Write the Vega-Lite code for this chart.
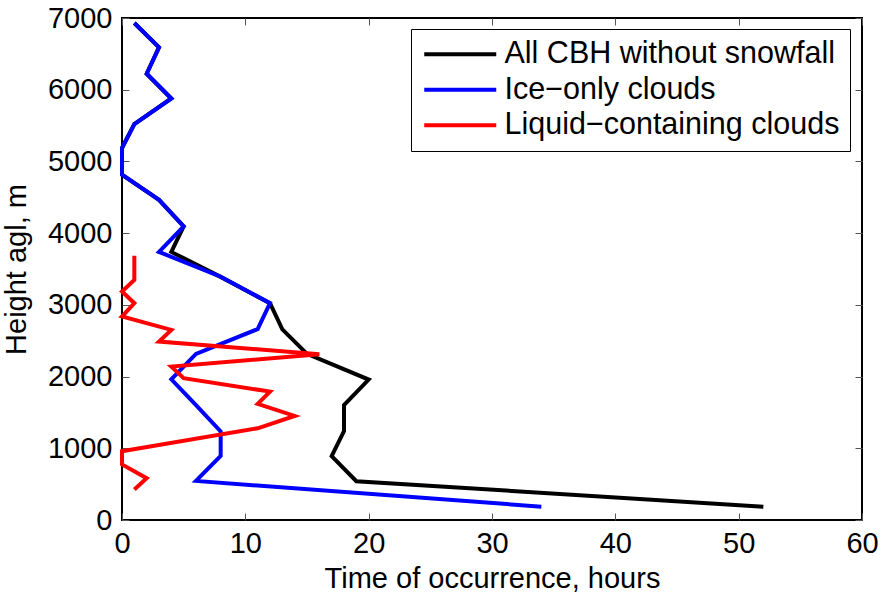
{
  "$schema": "https://vega.github.io/schema/vega-lite/v6.json",
  "width": 740,
  "height": 502,
  "autosize": "none",
  "padding": {"left": 122, "top": 18, "right": 22, "bottom": 78},
  "background": "white",
  "config": {
    "font": "Liberation Sans",
    "view": {"stroke": "black", "strokeWidth": 2},
    "axis": {
      "grid": false,
      "domain": false,
      "ticks": true,
      "tickSize": -7,
      "tickColor": "#555555",
      "tickWidth": 1,
      "labelFlush": false,
      "labelFont": "Liberation Sans",
      "labelFontSize": 29,
      "labelColor": "black",
      "titleFont": "Liberation Sans",
      "titleFontSize": 29,
      "titleFontWeight": "normal",
      "titleColor": "black"
    }
  },
  "data": {
    "values": [
      {"series": "All CBH without snowfall", "h": 186, "t": 52},
      {"series": "All CBH without snowfall", "h": 540, "t": 19},
      {"series": "All CBH without snowfall", "h": 890, "t": 17},
      {"series": "All CBH without snowfall", "h": 1240, "t": 18},
      {"series": "All CBH without snowfall", "h": 1602, "t": 18},
      {"series": "All CBH without snowfall", "h": 1958, "t": 20},
      {"series": "All CBH without snowfall", "h": 2316, "t": 15},
      {"series": "All CBH without snowfall", "h": 2658, "t": 13},
      {"series": "All CBH without snowfall", "h": 3023, "t": 12},
      {"series": "All CBH without snowfall", "h": 3390, "t": 8},
      {"series": "All CBH without snowfall", "h": 3738, "t": 4},
      {"series": "All CBH without snowfall", "h": 4093, "t": 5},
      {"series": "All CBH without snowfall", "h": 4465, "t": 3},
      {"series": "All CBH without snowfall", "h": 4814, "t": 0},
      {"series": "All CBH without snowfall", "h": 5186, "t": 0},
      {"series": "All CBH without snowfall", "h": 5521, "t": 1},
      {"series": "All CBH without snowfall", "h": 5878, "t": 4},
      {"series": "All CBH without snowfall", "h": 6223, "t": 2},
      {"series": "All CBH without snowfall", "h": 6590, "t": 3},
      {"series": "All CBH without snowfall", "h": 6930, "t": 1},

      {"series": "Ice−only clouds", "h": 186, "t": 34},
      {"series": "Ice−only clouds", "h": 545, "t": 6},
      {"series": "Ice−only clouds", "h": 895, "t": 8},
      {"series": "Ice−only clouds", "h": 1235, "t": 8},
      {"series": "Ice−only clouds", "h": 1602, "t": 6},
      {"series": "Ice−only clouds", "h": 1962, "t": 4},
      {"series": "Ice−only clouds", "h": 2316, "t": 6},
      {"series": "Ice−only clouds", "h": 2662, "t": 11},
      {"series": "Ice−only clouds", "h": 3023, "t": 12},
      {"series": "Ice−only clouds", "h": 3392, "t": 8},
      {"series": "Ice−only clouds", "h": 3738, "t": 3},
      {"series": "Ice−only clouds", "h": 4093, "t": 5},
      {"series": "Ice−only clouds", "h": 4465, "t": 3},
      {"series": "Ice−only clouds", "h": 4814, "t": 0},
      {"series": "Ice−only clouds", "h": 5186, "t": 0},
      {"series": "Ice−only clouds", "h": 5521, "t": 1},
      {"series": "Ice−only clouds", "h": 5878, "t": 4},
      {"series": "Ice−only clouds", "h": 6223, "t": 2},
      {"series": "Ice−only clouds", "h": 6590, "t": 3},
      {"series": "Ice−only clouds", "h": 6930, "t": 1},

      {"series": "Liquid−containing clouds", "h": 425, "t": 1},
      {"series": "Liquid−containing clouds", "h": 582, "t": 2},
      {"series": "Liquid−containing clouds", "h": 775, "t": 0},
      {"series": "Liquid−containing clouds", "h": 960, "t": 0},
      {"series": "Liquid−containing clouds", "h": 1279, "t": 11},
      {"series": "Liquid−containing clouds", "h": 1451, "t": 14},
      {"series": "Liquid−containing clouds", "h": 1619, "t": 11},
      {"series": "Liquid−containing clouds", "h": 1790, "t": 12},
      {"series": "Liquid−containing clouds", "h": 1977, "t": 5},
      {"series": "Liquid−containing clouds", "h": 2139, "t": 4},
      {"series": "Liquid−containing clouds", "h": 2312, "t": 16},
      {"series": "Liquid−containing clouds", "h": 2488, "t": 3},
      {"series": "Liquid−containing clouds", "h": 2651, "t": 4},
      {"series": "Liquid−containing clouds", "h": 2837, "t": 0},
      {"series": "Liquid−containing clouds", "h": 3023, "t": 1},
      {"series": "Liquid−containing clouds", "h": 3186, "t": 0},
      {"series": "Liquid−containing clouds", "h": 3349, "t": 1},
      {"series": "Liquid−containing clouds", "h": 3684, "t": 1}
    ]
  },
  "layer": [
    {
      "transform": [{"filter": "datum.series === 'All CBH without snowfall'"}],
      "mark": {"type": "line", "strokeWidth": 4, "strokeJoin": "miter"},
      "encoding": {
        "x": {"field": "t", "type": "quantitative", "scale": {"domain": [0, 60], "nice": false},
              "axis": {"title": "Time of occurrence, hours", "values": [0, 10, 20, 30, 40, 50, 60], "format": "d", "labelPadding": 16, "titlePadding": 6}},
        "y": {"field": "h", "type": "quantitative", "scale": {"domain": [0, 7000], "nice": false},
              "axis": {"title": "Height agl, m", "values": [0, 1000, 2000, 3000, 4000, 5000, 6000, 7000], "format": "d", "labelPadding": 17, "titlePadding": 16}},
        "order": {"field": "h", "type": "quantitative"},
        "color": {
          "field": "series", "type": "nominal",
          "scale": {"domain": ["All CBH without snowfall", "Ice−only clouds", "Liquid−containing clouds"], "range": ["#000000", "#0000ff", "#ff0000"]},
          "legend": {
            "title": null,
            "orient": "none",
            "legendX": 289,
            "legendY": 11,
            "direction": "vertical",
            "symbolType": "M-3,0H3",
            "symbolSize": 576,
            "symbolStrokeWidth": 4,
            "symbolOffset": 24,
            "labelFont": "Liberation Sans",
            "labelFontSize": 30.5,
            "labelColor": "black",
            "labelOffset": 29,
            "labelLimit": 500,
            "rowPadding": 4.5,
            "padding": 10,
            "strokeColor": "black",
            "fillColor": "white"
          }
        }
      }
    },
    {
      "transform": [{"filter": "datum.series === 'Ice−only clouds'"}],
      "mark": {"type": "line", "strokeWidth": 4, "strokeJoin": "miter"},
      "encoding": {
        "x": {"field": "t", "type": "quantitative", "axis": null},
        "y": {"field": "h", "type": "quantitative", "axis": null},
        "order": {"field": "h", "type": "quantitative"},
        "color": {"field": "series", "type": "nominal"}
      }
    },
    {
      "transform": [{"filter": "datum.series === 'Liquid−containing clouds'"}],
      "mark": {"type": "line", "strokeWidth": 4, "strokeJoin": "miter"},
      "encoding": {
        "x": {"field": "t", "type": "quantitative", "axis": null},
        "y": {"field": "h", "type": "quantitative", "axis": null},
        "order": {"field": "h", "type": "quantitative"},
        "color": {"field": "series", "type": "nominal"}
      }
    },
    {
      "mark": {"type": "line", "opacity": 0},
      "encoding": {
        "x": {"field": "t", "type": "quantitative",
              "axis": {"orient": "top", "title": null, "labels": false, "values": [0, 10, 20, 30, 40, 50, 60]}},
        "y": {"field": "h", "type": "quantitative",
              "axis": {"orient": "right", "title": null, "labels": false, "values": [0, 1000, 2000, 3000, 4000, 5000, 6000, 7000]}},
        "detail": {"field": "series", "type": "nominal"}
      }
    }
  ],
  "resolve": {"axis": {"x": "independent", "y": "independent"}}
}
